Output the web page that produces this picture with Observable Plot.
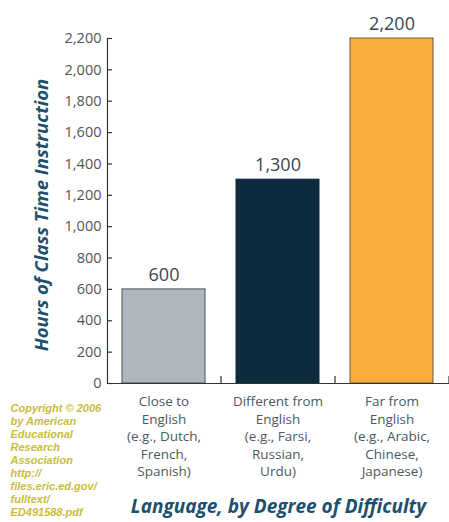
<!DOCTYPE html>
<html>
<head>
<meta charset="utf-8">
<script src="https://cdn.jsdelivr.net/npm/d3@7"></script>
<script src="https://cdn.jsdelivr.net/npm/@observablehq/plot@0.6"></script>
<style>
  html, body { margin: 0; padding: 0; background: #fff; }
  #chart svg { display: block; }
</style>
</head>
<body>
<div id="chart"></div>
<script>
const categories = ["Close to English", "Different from English", "Far from English"];
const hours = [600, 1300, 2200];
const tickLabels = [
  "Close to\nEnglish\n(e.g., Dutch,\nFrench,\nSpanish)",
  "Different from\nEnglish\n(e.g., Farsi,\nRussian,\nUrdu)",
  "Far from\nEnglish\n(e.g., Arabic,\nChinese,\nJapanese)"
];
const barColors = ["#aeb7be", "#0c2b3e", "#f8ae3a"];
const barStrokes = ["#4d5258", "#0c2b3e", "#6e5a36"];
const yTicks = [0, 200, 400, 600, 800, 1000, 1200, 1400, 1600, 1800, 2000, 2200];
const yTitle = "Hours of Class Time Instruction";
const xTitle = "Language, by Degree of Difficulty";
const copyright = "Copyright \u00a9 2006\nby American\nEducational\nResearch\nAssociation\nhttp://\nfiles.eric.ed.gov/\nfulltext/\nED491588.pdf";

const data = categories.map((c, i) => ({
  category: c, hours: hours[i], fill: barColors[i], stroke: barStrokes[i], label: tickLabels[i]
}));
const labelOf = new Map(data.map(d => [d.category, d.label]));

const chart = Plot.plot({
  width: 449,
  height: 522,
  marginLeft: 107,
  marginRight: 0,
  marginTop: 38,
  marginBottom: 139,
  style: { fontFamily: "'Open Sans', 'Noto Sans', sans-serif", background: "#fff" },
  x: { domain: categories, paddingInner: 0.27, paddingOuter: 0.135, align: 0.5 },
  y: { domain: [0, 2200] },
  marks: [
    Plot.barY(data, { x: "category", y: "hours", fill: "fill", stroke: "stroke", strokeWidth: 1 }),
    Plot.text(data, { x: "category", y: "hours", text: d => d3.format(",")(d.hours), dy: -14, fontSize: 18, fill: "#3b4650" }),
    Plot.ruleY([0], { stroke: "#333", strokeWidth: 1.2 }),
    Plot.frame({ anchor: "left", stroke: "#333", strokeWidth: 1.2 }),
    Plot.tickY(yTicks, { y: d => d, insetRight: 337, stroke: "#333", strokeWidth: 1.2 }),
    Plot.ruleX(categories, { x: d => d, dx: 57, y1: 0, y2: 45, stroke: "#333", strokeWidth: 1.2 }),
    Plot.axisY({ ticks: yTicks, tickSize: 0, tickPadding: 6, tickFormat: d3.format(","), fontSize: 14.5, fill: "#4f565c", label: null }),
    Plot.axisX({ tickSize: 0, tickPadding: 10, tickFormat: d => labelOf.get(d), fontSize: 13.5, lineHeight: 1.3, fill: "#4b5862", label: null }),
    Plot.text([yTitle], { frameAnchor: "left", textAnchor: "middle", rotate: -90, dx: -65, dy: 4, text: d => d, fontSize: 18.5, fontWeight: "bold", fontStyle: "italic", fill: "#1d4f6e" }),
    Plot.text([xTitle], { frameAnchor: "bottom", dy: 129, text: d => d, fontSize: 19, fontWeight: "bold", fontStyle: "italic", fill: "#1d4f6e" }),
    Plot.text([copyright], { frameAnchor: "bottom-left", dx: -97, dy: 19, lineAnchor: "top", textAnchor: "start", text: d => d, fontSize: 11, lineHeight: 1.18, fontWeight: "bold", fontStyle: "italic", fontFamily: "'Liberation Sans', Arial, sans-serif", fill: "#c9bc3c" })
  ]
});
document.getElementById("chart").appendChild(chart);
</script>
</body>
</html>
